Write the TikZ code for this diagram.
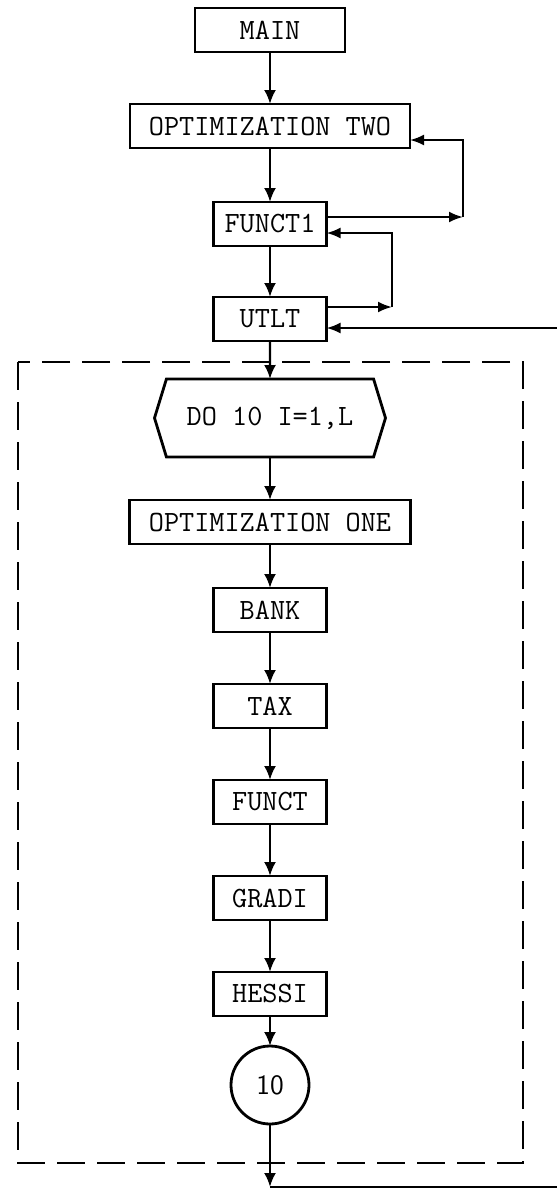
\documentclass[tikz,border=0pt]{standalone}
\usepackage{tikz}
\usetikzlibrary{positioning, shapes.symbols, arrows.meta}

\begin{document}
\begin{tikzpicture}[
    x=0.5pt, y=-0.5pt,
    node distance=26pt,
    routine/.style={rectangle, draw=black, line width=1.4pt, outer sep=0pt, minimum width=56.5pt, minimum height=22pt, inner sep=2pt, font=\ttfamily\fontsize{14.7}{17}\selectfont},
    loophead/.style={signal, signal to=west and east, signal pointer angle=146, draw=black, line width=1.4pt, outer sep=0pt, minimum width=115.5pt, minimum height=39pt, inner sep=2pt, font=\ttfamily\fontsize{14.7}{17}\selectfont},
    labelcircle/.style={circle, draw=black, line width=1.4pt, outer sep=0pt, minimum size=39pt, inner sep=0pt, font=\sffamily\fontsize{14}{16}\selectfont},
    flow/.style={-{Latex[length=7pt,width=6pt]}, line width=1.2pt},
    feedback/.style={-{Latex[length=7pt,width=5.5pt]}, line width=1.1pt},
    loopframe/.style={dash pattern=on 14pt off 6pt, line width=1.4pt}
]
    \useasboundingbox (0,0) rectangle (557,1190);

    \node[routine, minimum width=75pt] (main) at (270,30) {MAIN};
    \node[routine, minimum width=140pt] (opttwo) [below=of main] {OPTIMIZATION TWO};
    \node[routine] (funct1) [below=27pt of opttwo] {FUNCT1};
    \node[routine] (utlt) [below=25.5pt of funct1] {UTLT};
    \node[loophead] (doloop) [below=19pt of utlt] {DO 10 I=1,L};
    \node[routine, minimum width=140.5pt] (optone) [below=21.5pt of doloop] {OPTIMIZATION ONE};
    \node[routine] (bank) [below=22pt of optone] {BANK};
    \node[routine] (tax) [below=of bank] {TAX};
    \node[routine] (funct) [below=of tax] {FUNCT};
    \node[routine] (gradi) [below=of funct] {GRADI};
    \node[routine] (hessi) [below=of gradi] {HESSI};
    \node[labelcircle] (ten) [below=15pt of hessi] {10};

    % corners of the return paths
    \coordinate (lpa) at (463,217);
    \coordinate (lpb) at (463,140);
    \coordinate (lpc) at (392,307);
    \coordinate (lpd) at (392,233);
    \coordinate (ret) at (270,1187);
    \coordinate (retr) at (575,1187);
    \coordinate (retu) at (575,328);

    \draw[loopframe] (18,362) rectangle (523,1163);

    \draw[flow] (main) -- (opttwo);
    \draw[flow] (opttwo) -- (funct1);
    \draw[flow] (funct1) -- (utlt);
    \draw[flow] (utlt) -- (doloop);
    \draw[flow] (doloop) -- (optone);
    \draw[flow] (optone) -- (bank);
    \draw[flow] (bank) -- (tax);
    \draw[flow] (tax) -- (funct);
    \draw[flow] (funct) -- (gradi);
    \draw[flow] (gradi) -- (hessi);
    \draw[flow] (hessi) -- (ten);
    \draw[flow] (ten) -- (ret);

    \draw[feedback] (funct1.east |- lpa) -- (lpa);
    \draw[feedback] (lpa) -- (lpb) -- (opttwo.east |- lpb);
    \draw[feedback] (utlt.east |- lpc) -- (lpc);
    \draw[feedback] (lpc) -- (lpd) -- (funct1.east |- lpd);
    \draw[feedback] (ret) -- (retr) -- (retu) -- (utlt.east |- retu);
\end{tikzpicture}
\end{document}
